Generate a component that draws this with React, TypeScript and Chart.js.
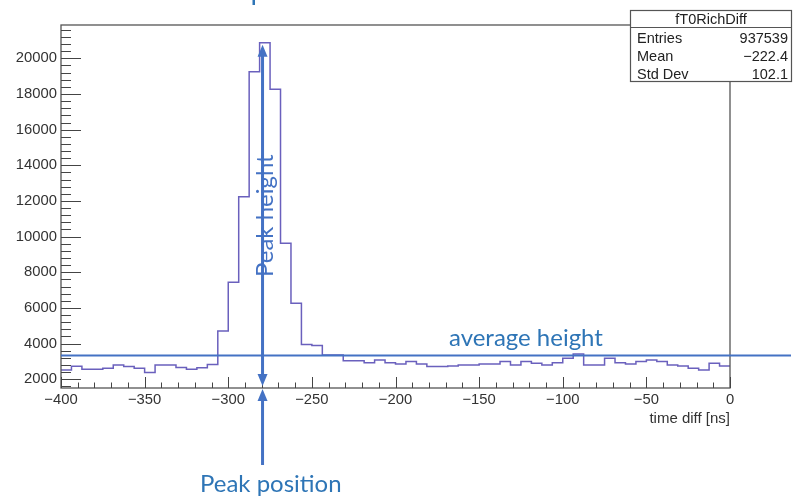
import React, { useEffect, useRef } from 'react';
import { Chart, registerables } from 'chart.js';

Chart.register(...registerables);

// ---- data ----
const xMin = -400;
const xMax = 0;
const binWidth = 6.25;
const counts = [
  2520, 2730, 2560, 2560, 2615, 2800, 2710, 2615, 2380, 2800,
  2800, 2660, 2560, 2640, 2830, 4710, 7440, 12240, 19250, 20880,
  18260, 9625, 6260, 3950, 3900, 3360, 3360, 3040, 3040, 2930,
  3080, 2930, 2860, 2990, 2860, 2710, 2710, 2745, 2800, 2800,
  2860, 2860, 2990, 2800, 2990, 2900, 2800, 2930, 3175, 3420,
  2800, 2800, 3175, 2930, 2860, 2990, 3080, 2990, 2800, 2745,
  2615, 2520, 2900, 2745,
];
const yMin = 1510;
const yMax = 21870;
const xTickValues = [-400, -350, -300, -250, -200, -150, -100, -50, 0];
const yTickValues = [2000, 4000, 6000, 8000, 10000, 12000, 14000, 16000, 18000, 20000];
const xMinorStep = 10;
const yMinorStep = 400;
const xTitle = 'time diff [ns]';
const statsTitle = 'fT0RichDiff';
const statsLabels = ['Entries', 'Mean', 'Std Dev'];
const statsValues = ['937539', '\u2212222.4', '102.1'];
const peakPosition = -279.5;
const peakHeight = 20880;
const averageHeight = 3335;
const peakHeightLabel = 'Peak height';
const peakPositionLabel = 'Peak position';
const averageLabel = 'average height';

const HIST_COLOR = '#6a60bd';
const ANN_COLOR = '#4472c4';
const ANN_TEXT = '#2e75b6';
const AXIS_FONT = '"Liberation Sans", Arial, sans-serif';
const ANN_FONT = 'Lato, "Open Sans", sans-serif';

const fmt = (v: number) => (v < 0 ? '\u2212' + Math.abs(v) : String(v));

function arrowHead(ctx: CanvasRenderingContext2D, x: number, tipY: number, dir: number) {
  // dir: -1 points up, +1 points down
  ctx.beginPath();
  ctx.moveTo(x, tipY);
  ctx.lineTo(x - 5, tipY - dir * 12);
  ctx.lineTo(x + 5, tipY - dir * 12);
  ctx.closePath();
  ctx.fill();
}

const decoPlugin = {
  id: 'deco',
  afterDraw(chart: any) {
    const ctx: CanvasRenderingContext2D = chart.ctx;
    const { left, right, top, bottom } = chart.chartArea;
    const xs = chart.scales.x;
    const ys = chart.scales.y;
    ctx.save();

    // frame
    ctx.strokeStyle = '#555';
    ctx.lineWidth = 1.3;
    ctx.strokeRect(left, top, right - left, bottom - top);

    // ticks (inside)
    ctx.strokeStyle = '#444';
    ctx.lineWidth = 1;
    ctx.beginPath();
    for (let v = Math.ceil(yMin / yMinorStep) * yMinorStep; v <= yMax; v += yMinorStep) {
      const y = Math.round(ys.getPixelForValue(v)) + 0.5;
      const major = yTickValues.includes(v);
      ctx.moveTo(left, y);
      ctx.lineTo(left + (major ? 20 : 10), y);
    }
    for (let v = xMin; v <= xMax; v += xMinorStep) {
      const x = Math.round(xs.getPixelForValue(v)) + 0.5;
      const major = xTickValues.includes(v);
      ctx.moveTo(x, bottom);
      ctx.lineTo(x, bottom - (major ? 11 : 5.5));
    }
    ctx.stroke();

    // x title
    ctx.fillStyle = '#333';
    ctx.font = `15px ${AXIS_FONT}`;
    ctx.textAlign = 'right';
    ctx.textBaseline = 'middle';
    ctx.fillText(xTitle, right, 419);

    // annotations
    ctx.font = `100px ${ANN_FONT}`;
    const w100 = ctx.measureText(averageLabel).width;
    const annSize = (154 / w100) * 100;
    const ax = xs.getPixelForValue(peakPosition);
    const tipTop = ys.getPixelForValue(peakHeight) + 2;
    const tipBottom = bottom - 2;
    ctx.fillStyle = ANN_COLOR;
    ctx.strokeStyle = ANN_COLOR;
    ctx.lineWidth = 3;
    ctx.beginPath();
    ctx.moveTo(ax, tipTop + 10);
    ctx.lineTo(ax, tipBottom - 10);
    ctx.stroke();
    arrowHead(ctx, ax, tipTop, -1);
    arrowHead(ctx, ax, tipBottom, 1);

    const lowTip = bottom + 1;
    ctx.beginPath();
    ctx.moveTo(ax, lowTip + 10);
    ctx.lineTo(ax, 465);
    ctx.stroke();
    arrowHead(ctx, ax, lowTip, -1);

    // average line
    const ay = ys.getPixelForValue(averageHeight);
    ctx.lineWidth = 2;
    ctx.beginPath();
    ctx.moveTo(left, ay);
    ctx.lineTo(791, ay);
    ctx.stroke();

    ctx.fillStyle = ANN_TEXT;
    ctx.font = `${annSize}px ${ANN_FONT}`;
    ctx.textAlign = 'left';
    ctx.textBaseline = 'alphabetic';
    ctx.fillText(averageLabel, 449, ay - 9.5);
    ctx.fillText(peakPositionLabel, 200, 492);

    ctx.save();
    ctx.translate(273, 277);
    ctx.rotate(-Math.PI / 2);
    ctx.fillStyle = ANN_COLOR;
    ctx.fillText(peakHeightLabel, 0, 0);
    ctx.restore();

    // cut-off glyph at the top
    ctx.fillStyle = ANN_TEXT;
    ctx.fillRect(252.5, 0, 2.5, 5);

    // stats box
    const bx0 = 630, bx1 = 792, by0 = 10, by1 = 82, hdr = 27;
    ctx.fillStyle = '#fff';
    ctx.fillRect(bx0, by0, bx1 - bx0, by1 - by0);
    ctx.strokeStyle = '#555';
    ctx.lineWidth = 1.2;
    ctx.strokeRect(bx0 + 0.5, by0 + 0.5, bx1 - bx0 - 1, by1 - by0 - 1);
    ctx.beginPath();
    ctx.moveTo(bx0, hdr + 0.5);
    ctx.lineTo(bx1, hdr + 0.5);
    ctx.stroke();
    ctx.fillStyle = '#222';
    ctx.font = `14.5px ${AXIS_FONT}`;
    ctx.textBaseline = 'middle';
    ctx.textAlign = 'center';
    ctx.fillText(statsTitle, (bx0 + bx1) / 2, 19.5);
    const rowY = [39, 57, 75];
    statsLabels.forEach((l, i) => {
      ctx.textAlign = 'left';
      ctx.fillText(l, 637, rowY[i]);
      ctx.textAlign = 'right';
      ctx.fillText(statsValues[i], 788, rowY[i]);
    });

    ctx.restore();
  },
};

export default function App() {
  const ref = useRef<HTMLCanvasElement | null>(null);
  useEffect(() => {
    if (!ref.current) return;
    const points = counts.flatMap((c, i) => [
      { x: xMin + i * binWidth, y: c },
      { x: xMin + (i + 1) * binWidth, y: c },
    ]);
    const chart = new Chart(ref.current, {
      type: 'line',
      data: {
        datasets: [
          {
            data: points,
            borderColor: HIST_COLOR,
            borderWidth: 1.5,
            pointRadius: 0,
            fill: false,
            tension: 0,
          },
        ],
      },
      options: {
        animation: false,
        responsive: false,
        maintainAspectRatio: false,
        devicePixelRatio: 1,
        layout: { padding: { top: 25, right: 63, bottom: 0, left: 0 } },
        plugins: {
          legend: { display: false },
          tooltip: { enabled: false },
          title: { display: false },
        },
        scales: {
          x: {
            type: 'linear',
            min: xMin,
            max: xMax,
            afterBuildTicks: (s: any) => {
              s.ticks = xTickValues.map((v) => ({ value: v }));
            },
            afterFit: (s: any) => {
              s.height = 111;
            },
            grid: { display: false, drawTicks: false },
            border: { display: false },
            ticks: {
              padding: 3,
              autoSkip: false,
              maxRotation: 0,
              color: '#333',
              font: { family: AXIS_FONT, size: 14.8 },
              callback: (v: any) => fmt(Number(v)),
            },
          },
          y: {
            type: 'linear',
            min: yMin,
            max: yMax,
            afterBuildTicks: (s: any) => {
              s.ticks = yTickValues.map((v) => ({ value: v }));
            },
            afterFit: (s: any) => {
              s.width = 61;
            },
            grid: { display: false, drawTicks: false },
            border: { display: false },
            ticks: {
              padding: 4,
              autoSkip: false,
              color: '#333',
              font: { family: AXIS_FONT, size: 14.8 },
              callback: (v: any) => fmt(Number(v)),
            },
          },
        },
      },
      plugins: [decoPlugin],
    });
    return () => chart.destroy();
  }, []);
  return (
    <div style={{ position: 'fixed', left: 0, top: 0, width: 793, height: 499, background: '#fff' }}>
      <canvas ref={ref} width={793} height={499} style={{ display: 'block', width: 793, height: 499 }} />
    </div>
  );
}
